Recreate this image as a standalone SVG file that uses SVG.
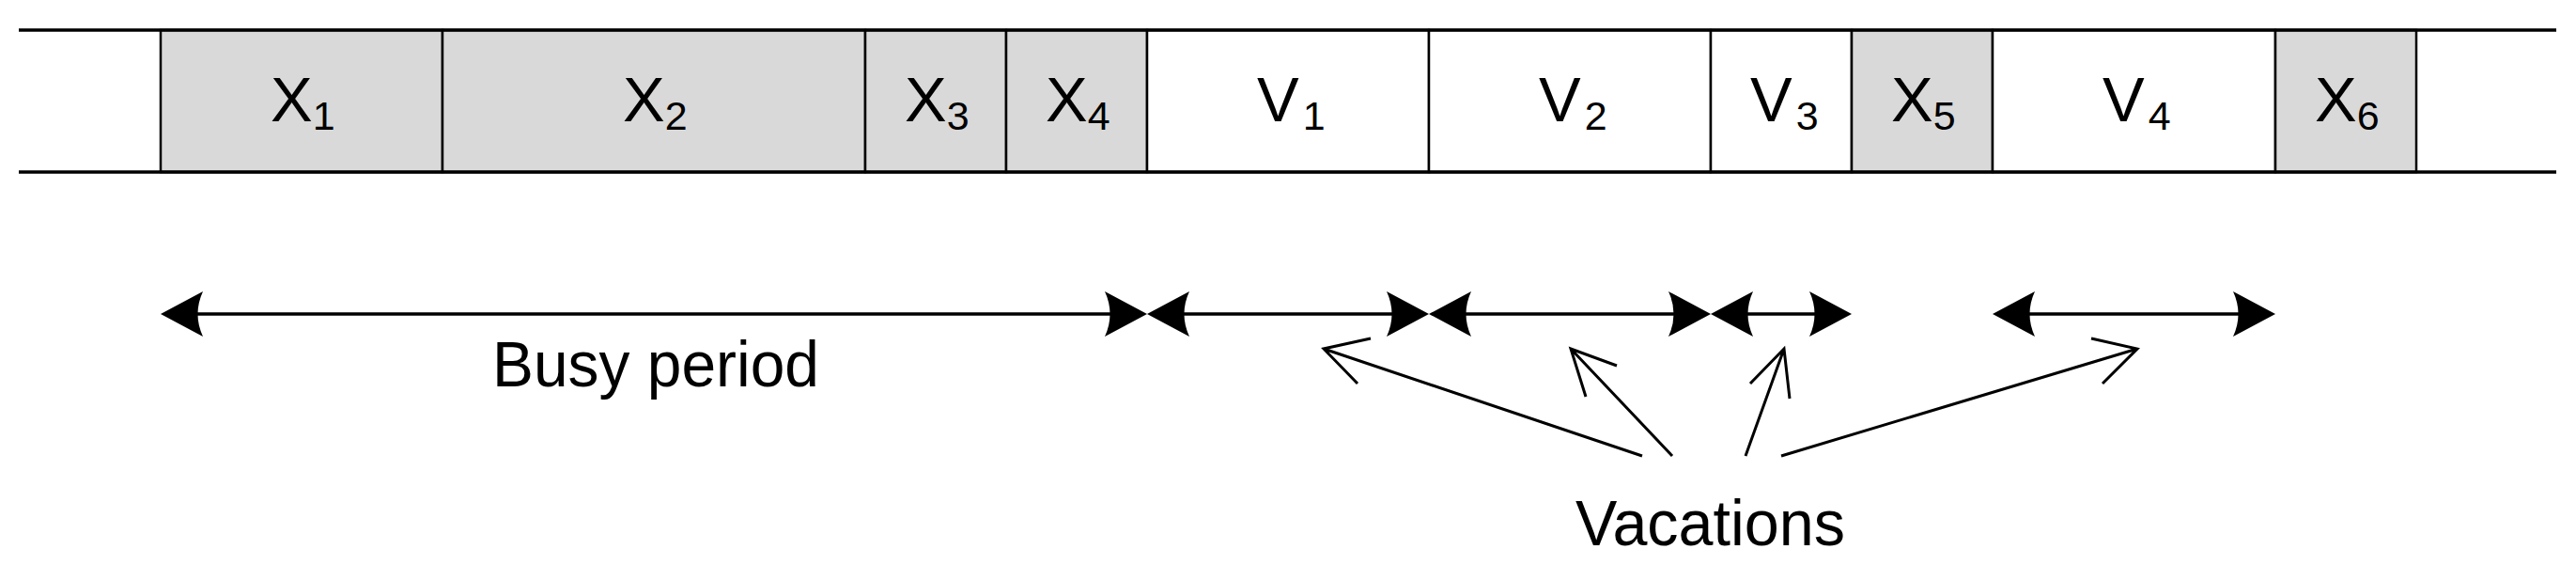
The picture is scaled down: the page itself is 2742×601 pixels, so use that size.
<svg xmlns="http://www.w3.org/2000/svg" xmlns:xlink="http://www.w3.org/1999/xlink" width="2742" height="601" viewBox="0 0 2742 601">
<style>
.cell{stroke:#000;stroke-width:2.5}
.busy{fill:#d9d9d9}
.idle{fill:#fff}
.lbl{font-family:"Liberation Sans",Arial,sans-serif;font-size:67px;fill:#000}
.sub{font-size:43px}
.big{font-family:"Liberation Sans",Arial,sans-serif;font-size:68px;fill:#000}
.ln{stroke:#000;stroke-width:3.5;fill:none}
.pt{stroke:#000;stroke-width:3;fill:none}
</style>
<defs>
<path id="hr" d="M0,0 L-45,-24 Q-34,0 -45,24 Z" fill="#000"/>
<path id="hl" d="M0,0 L45,-24 Q34,0 45,24 Z" fill="#000"/>
</defs>
<rect width="2742" height="601" fill="#fff"/>
<g id="cells">
<rect class="cell busy" x="171" y="32" width="300" height="151"/>
<rect class="cell busy" x="471" y="32" width="450" height="151"/>
<rect class="cell busy" x="921" y="32" width="150" height="151"/>
<rect class="cell busy" x="1071" y="32" width="150" height="151"/>
<rect class="cell idle" x="1221" y="32" width="300" height="151"/>
<rect class="cell idle" x="1521" y="32" width="300" height="151"/>
<rect class="cell idle" x="1821" y="32" width="150" height="151"/>
<rect class="cell busy" x="1971" y="32" width="150" height="151"/>
<rect class="cell idle" x="2121" y="32" width="301" height="151"/>
<rect class="cell busy" x="2422" y="32" width="150" height="151"/>
<line class="ln" x1="20" y1="32" x2="2721" y2="32" stroke-width="5"/>
<line class="ln" x1="20" y1="183" x2="2721" y2="183" stroke-width="5"/>
</g>
<g id="labels">
<text class="lbl" x="288" y="129">X<tspan class="sub" y="138">1</tspan></text>
<text class="lbl" x="663" y="129">X<tspan class="sub" y="138">2</tspan></text>
<text class="lbl" x="963" y="129">X<tspan class="sub" y="138">3</tspan></text>
<text class="lbl" x="1113" y="129">X<tspan class="sub" y="138">4</tspan></text>
<text class="lbl" x="1338" y="129">V<tspan class="sub" y="138" dx="4">1</tspan></text>
<text class="lbl" x="1638" y="129">V<tspan class="sub" y="138" dx="4">2</tspan></text>
<text class="lbl" x="1863" y="129">V<tspan class="sub" y="138" dx="4">3</tspan></text>
<text class="lbl" x="2013" y="129">X<tspan class="sub" y="138">5</tspan></text>
<text class="lbl" x="2238" y="129">V<tspan class="sub" y="138" dx="4">4</tspan></text>
<text class="lbl" x="2464" y="129">X<tspan class="sub" y="138">6</tspan></text>
</g>
<g id="connectors">
<line class="ln" x1="180" y1="334" x2="1212" y2="334"/>
<use xlink:href="#hl" x="171" y="334"/><use xlink:href="#hr" x="1221" y="334"/>
<line class="ln" x1="1230" y1="334" x2="1512" y2="334"/>
<use xlink:href="#hl" x="1221" y="334"/><use xlink:href="#hr" x="1521" y="334"/>
<line class="ln" x1="1530" y1="334" x2="1812" y2="334"/>
<use xlink:href="#hl" x="1521" y="334"/><use xlink:href="#hr" x="1821" y="334"/>
<line class="ln" x1="1830" y1="334" x2="1962" y2="334"/>
<use xlink:href="#hl" x="1821" y="334"/><use xlink:href="#hr" x="1971" y="334"/>
<line class="ln" x1="2130" y1="334" x2="2412" y2="334"/>
<use xlink:href="#hl" x="2121" y="334"/><use xlink:href="#hr" x="2422" y="334"/>
<path class="pt" d="M1748,485 L1409,371 M1459,360 L1409,371 L1445,408"/>
<path class="pt" d="M1780,485 L1672,371 M1721,389 L1672,371 L1688,422"/>
<path class="pt" d="M1858,485 L1899,371 M1863,408 L1899,371 L1905,424"/>
<path class="pt" d="M1896,485 L2275,371 M2226,360 L2275,371 L2238,408"/>
</g>
<g id="captions">
<text class="big" x="524" y="411" textLength="348" lengthAdjust="spacingAndGlyphs">Busy period</text>
<text class="big" x="1677" y="580" textLength="287" lengthAdjust="spacingAndGlyphs">Vacations</text>
</g>
</svg>
